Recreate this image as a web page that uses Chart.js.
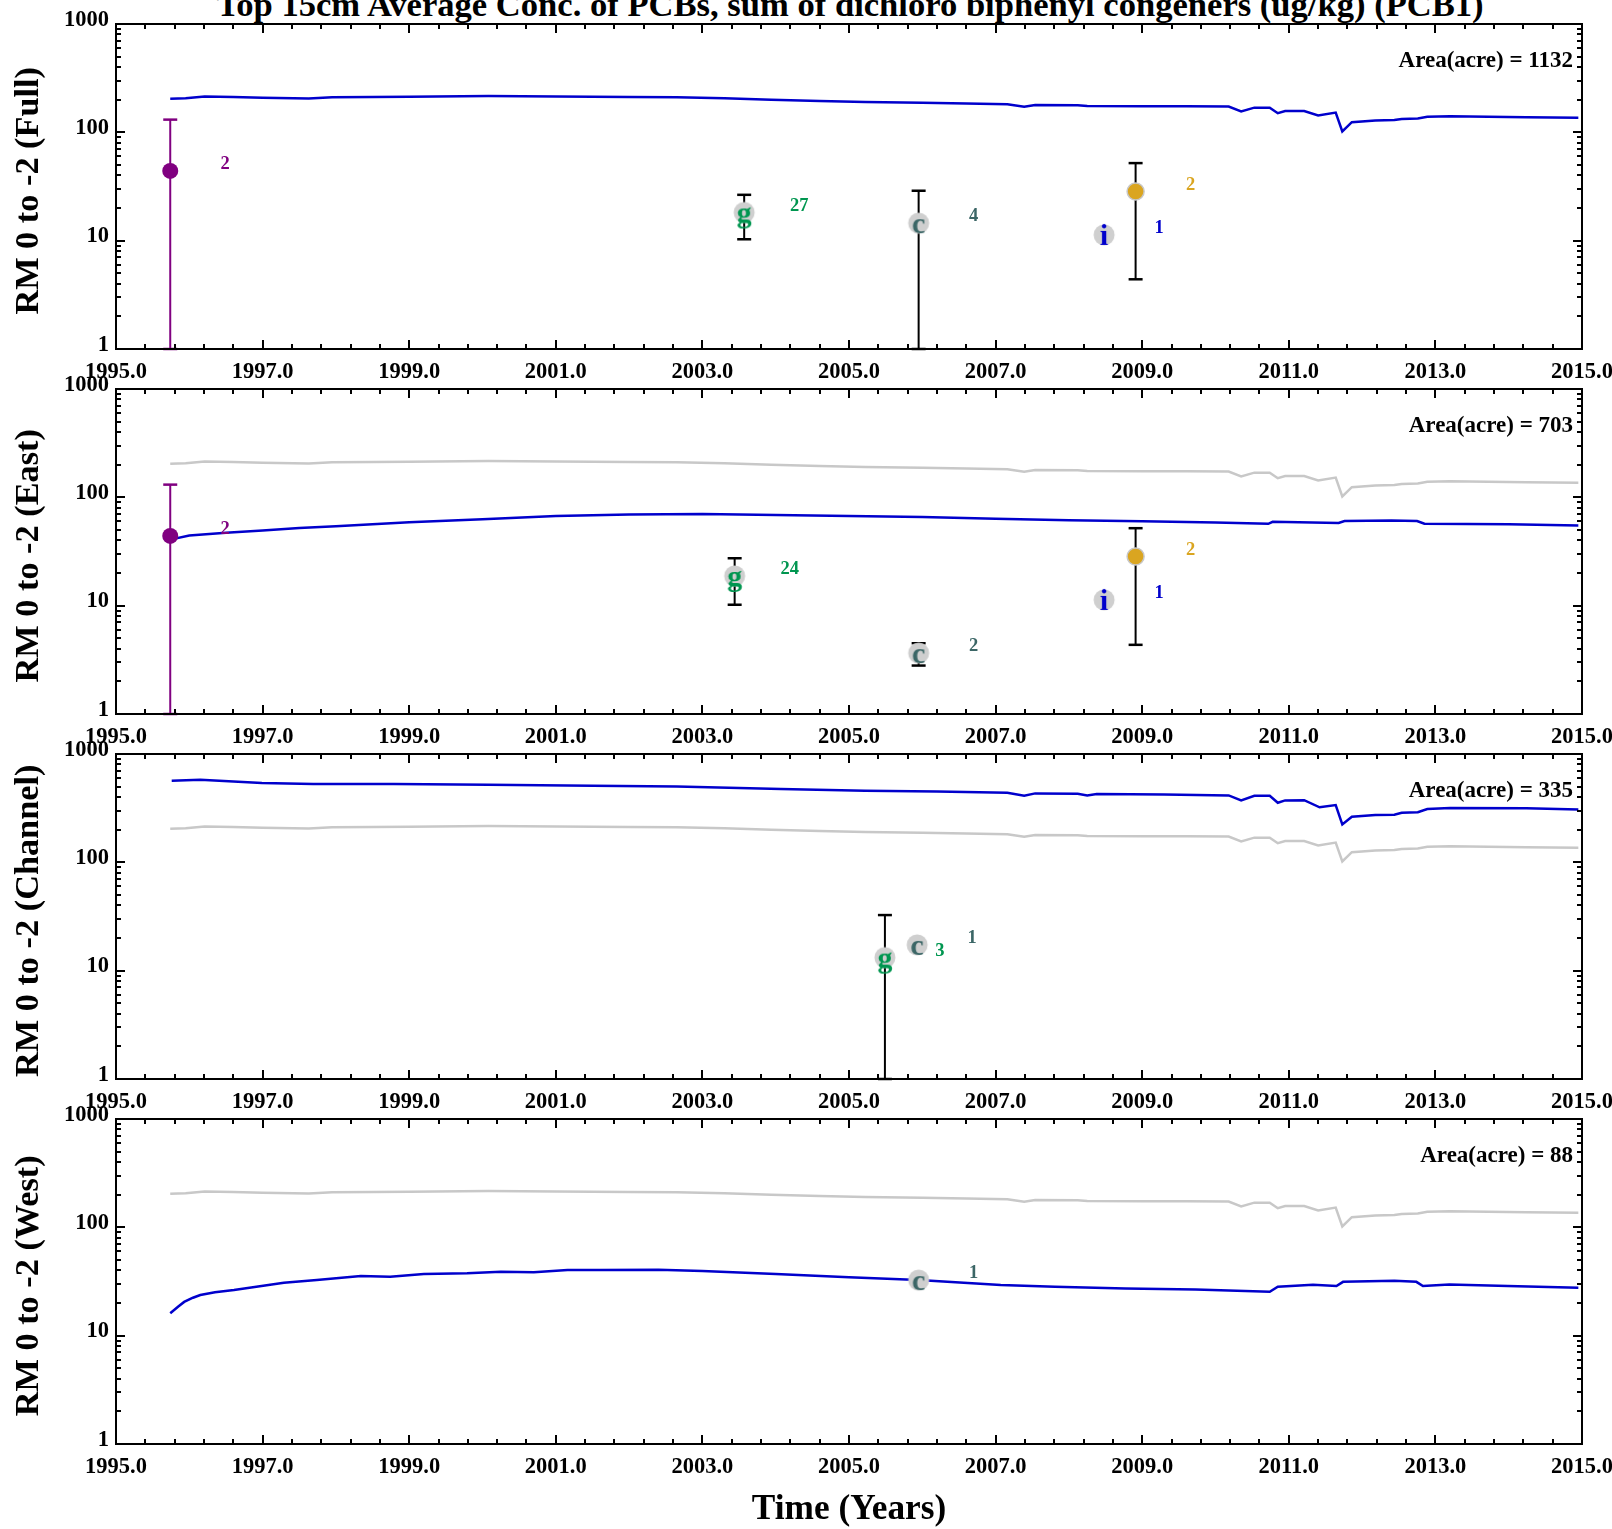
<!DOCTYPE html>
<html><head><meta charset="utf-8">
<script src="https://cdn.jsdelivr.net/npm/chart.js@4.4.1/dist/chart.umd.min.js"></script>
<style>
html,body{margin:0;padding:0;background:#fff;overflow:hidden;width:1612px;height:1529px;position:relative;}
canvas{position:absolute;left:0;}
#title{position:absolute;left:850px;top:-14px;transform:translateX(-50%);white-space:nowrap;font:bold 34.6px 'Liberation Serif';line-height:36px;color:#000;}
</style></head><body>
<div id="title">Top 15cm Average Conc. of PCBs, sum of dichloro biphenyl congeners (ug/kg) (PCB1)</div>
<canvas id="c0" width="1700" height="434" style="top:0px"></canvas>
<canvas id="c1" width="1700" height="434" style="top:365px"></canvas>
<canvas id="c2" width="1700" height="434" style="top:730px"></canvas>
<canvas id="c3" width="1700" height="434" style="top:1095px"></canvas>
<script>
// ---------- data ----------
const xTickYears = [1995, 1997, 1999, 2001, 2003, 2005, 2007, 2009, 2011, 2013, 2015];
const yTickValues = [1, 10, 100, 1000];
const panelNames = ['Full', 'East', 'Channel', 'West'];
const panelAreas = [1132, 703, 335, 88];

const fullYears = [1995.74, 1995.95, 1996.21, 1996.6, 1997.0, 1997.63, 1997.95, 1998.5, 1999.0, 2000.08, 2001.0, 2002.0, 2002.65, 2003.3, 2003.94, 2004.6, 2005.22, 2006.0, 2006.6, 2007.16, 2007.39, 2007.54, 2008.12, 2008.25, 2009.0, 2009.6, 2010.18, 2010.35, 2010.53, 2010.74, 2010.85, 2010.95, 2011.21, 2011.40, 2011.64, 2011.73, 2011.86, 2012.18, 2012.44, 2012.54, 2012.76, 2012.89, 2013.2, 2014.24, 2014.95];
const fullValues = [204, 206, 214, 212, 209, 205, 211, 212, 213, 216, 214, 212, 211, 206, 199.5, 195, 191, 188, 185, 182, 172, 179, 178, 175, 174, 174, 173, 156, 169, 169, 150, 157, 157, 143, 152, 102, 124, 128.5, 130, 133, 134, 139, 141, 138, 136];

const eastYears = [1995.74, 1996.0, 1996.5, 1997.0, 1997.5, 1998.0, 1999.0, 2000.0, 2001.0, 2002.0, 2003.0, 2004.0, 2005.0, 2006.0, 2007.0, 2008.0, 2009.0, 2010.0, 2010.72, 2010.78, 2011.68, 2011.76, 2012.4, 2012.75, 2012.85, 2014.0, 2014.95];
const eastValues = [40.7, 44.5, 47, 49.5, 52, 54, 58.9, 62.9, 67.2, 69.5, 70.3, 68.7, 67.2, 65.8, 63.5, 61.6, 60.3, 58.5, 57, 59.5, 58, 60.5, 61, 60.5, 57, 56.5, 55];

const channelYears = [1995.76, 1996.15, 1996.99, 1997.69, 1998.79, 2000.08, 2001.5, 2002.65, 2004.07, 2005.22, 2006.2, 2007.16, 2007.39, 2007.54, 2008.12, 2008.25, 2008.38, 2009.3, 2010.18, 2010.35, 2010.53, 2010.74, 2010.85, 2010.95, 2011.21, 2011.42, 2011.64, 2011.73, 2011.86, 2012.18, 2012.44, 2012.54, 2012.76, 2012.89, 2013.2, 2014.24, 2014.95];
const channelValues = [566, 578, 540, 528, 528, 520, 510, 502, 474, 458, 450, 439, 411, 433, 430, 415, 427, 423, 415, 373, 411, 411, 355, 373, 375, 322, 338, 224, 264, 273, 275, 287, 290, 310, 317, 315, 308];

const westYears = [1995.74, 1995.85, 1995.93, 1996.05, 1996.15, 1996.35, 1996.61, 1997.29, 1997.74, 1998.34, 1998.74, 1999.2, 1999.79, 2000.25, 2000.7, 2001.16, 2001.61, 2002.4, 2003.0, 2004.0, 2005.0, 2005.95, 2007.07, 2007.81, 2008.77, 2009.73, 2010.74, 2010.85, 2011.33, 2011.65, 2011.74, 2012.44, 2012.74, 2012.83, 2013.19, 2013.99, 2014.95];
const westValues = [16.1, 18.6, 20.5, 22.4, 23.7, 25.2, 26.4, 30.8, 32.6, 35.5, 35, 37, 37.6, 38.9, 38.5, 40.3, 40.3, 40.5, 39.6, 37, 34.7, 32.6, 29.3, 28.3, 27.3, 26.7, 25.4, 28.3, 29.5, 28.7, 31.4, 32.1, 31.4, 28.7, 29.7, 28.7, 27.7];

// observations (source codes: a = purple dots, b = gold dots, g / c / i = lettered samples)
const fullObsYears = [1995.74, 2003.57, 2005.95, 2008.48, 2008.91];
const fullObsValues = [44, 18.2, 14.5, 11.3, 28.4];
const fullObsLow = [1, 10.3, 1, null, 4.4];
const fullObsHigh = [131, 26.5, 28.9, null, 52];
const fullObsCounts = ['2', '27', '4', '1', '2'];
const fullObsSources = ['a', 'g', 'c', 'i', 'b'];

const eastObsYears = [1995.74, 2003.44, 2005.95, 2008.48, 2008.91];
const eastObsValues = [44, 18.8, 3.65, 11.3, 28.4];
const eastObsLow = [1, 10.2, 2.8, null, 4.35];
const eastObsHigh = [131, 27.4, 4.5, null, 51.9];
const eastObsCounts = ['2', '24', '2', '1', '2'];
const eastObsSources = ['a', 'g', 'c', 'i', 'b'];

const channelObsYears = [2005.49, 2005.93];
const channelObsValues = [13.2, 17.3];
const channelObsLow = [1, null];
const channelObsHigh = [32.6, null];
const channelObsCounts = ['3', '1'];
const channelObsSources = ['g', 'c'];

const westObsYears = [2005.95];
const westObsValues = [32.6];
const westObsLow = [null];
const westObsHigh = [null];
const westObsCounts = ['1'];
const westObsSources = ['c'];

// ---------- styles ----------
const SERIF = "'Liberation Serif', 'Times New Roman', serif";
const sourceColor = { a: '#800080', b: '#DAA520', g: '#009650', c: '#3B6666', i: '#0000cc' };
const BLUE = '#0000cc', GRAY = '#c8c8c8';

function letterImage(ch, color) {
  const c = document.createElement('canvas');
  c.width = 40; c.height = 40;
  const g = c.getContext('2d');
  g.fillStyle = '#cfcfcf';
  g.beginPath(); g.arc(20, 20, 10.5, 0, Math.PI * 2); g.fill();
  g.fillStyle = color;
  g.font = 'bold 30px ' + SERIF;
  g.textAlign = 'center'; g.textBaseline = 'alphabetic';
  g.fillText(ch, 20, 30);
  return c;
}
const letterImgs = { g: letterImage('g', sourceColor.g), c: letterImage('c', sourceColor.c), i: letterImage('i', sourceColor.i) };

const panels = [
  { years: fullYears, values: fullValues, showFull: false, obs: [fullObsYears, fullObsValues, fullObsLow, fullObsHigh, fullObsCounts, fullObsSources] },
  { years: eastYears, values: eastValues, showFull: true, obs: [eastObsYears, eastObsValues, eastObsLow, eastObsHigh, eastObsCounts, eastObsSources] },
  { years: channelYears, values: channelValues, showFull: true, obs: [channelObsYears, channelObsValues, channelObsLow, channelObsHigh, channelObsCounts, channelObsSources] },
  { years: westYears, values: westValues, showFull: true, obs: [westObsYears, westObsValues, westObsLow, westObsHigh, westObsCounts, westObsSources] }
];

const framePlugin = {
  id: 'frameTicks',
  afterDatasetsDraw(chart) {
    const { ctx, chartArea: a, scales: { x, y } } = chart;
    ctx.save();
    ctx.strokeStyle = '#000';
    ctx.lineWidth = 2;
    ctx.beginPath();
    for (let i = 0; i <= 50; i++) {
      const v = 1995 + i * 0.4;
      const px = Math.round(x.getPixelForValue(v));
      const len = i % 5 === 0 ? 9 : 5;
      ctx.moveTo(px, a.bottom); ctx.lineTo(px, a.bottom - len);
      ctx.moveTo(px, a.top); ctx.lineTo(px, a.top + len);
    }
    for (const d of [1, 10, 100, 1000]) {
      for (let k = 1; k <= 9; k++) {
        const v = k * d;
        if (v > 1000) break;
        const py = Math.round(y.getPixelForValue(v));
        const len = k === 1 ? 9 : 5;
        ctx.moveTo(a.left, py); ctx.lineTo(a.left + len, py);
        ctx.moveTo(a.right, py); ctx.lineTo(a.right - len, py);
      }
    }
    ctx.stroke();
    ctx.strokeRect(a.left, a.top, a.right - a.left, a.bottom - a.top);
    ctx.restore();
  }
};

const labelPlugin = {
  id: 'countLabels',
  afterDatasetsDraw(chart) {
    const p = chart.options.plugins.countLabels;
    const { ctx, chartArea: a, scales: { x, y } } = chart;
    const [oy, ov, , , oc, os] = p.obs;
    ctx.save();
    ctx.font = 'bold 18.5px ' + SERIF;
    ctx.textAlign = 'center';
    ctx.textBaseline = 'middle';
    oy.forEach((yr, i) => {
      ctx.fillStyle = sourceColor[os[i]];
      ctx.fillText(oc[i], x.getPixelForValue(yr + 0.75), y.getPixelForValue(ov[i]) - 6.5);
    });
    ctx.fillStyle = '#000';
    ctx.font = 'bold 23px ' + SERIF;
    ctx.textAlign = 'right';
    ctx.fillText('Area(acre) = ' + p.area, a.right - 9, a.top + 37);
    ctx.restore();
  }
};

panels.forEach((p, idx) => {
  const ds = [];
  if (p.showFull) {
    ds.push({ data: fullYears.map((v, i) => ({ x: v, y: fullValues[i] })), showLine: true, borderColor: GRAY, borderWidth: 2.5, pointRadius: 0, order: 10 });
  }
  ds.push({ data: p.years.map((v, i) => ({ x: v, y: p.values[i] })), showLine: true, borderColor: BLUE, borderWidth: 2.5, pointRadius: 0, order: 9 });
  const [oy, ov, ol, oh, oc, os] = p.obs;
  oy.forEach((yr, i) => {
    if (ol[i] == null) return;
    const col = os[i] === 'a' ? sourceColor.a : '#000';
    ds.push({ data: [{ x: yr, y: ol[i] }, { x: yr, y: oh[i] }], showLine: true, borderColor: col, borderWidth: 2,
      pointStyle: 'line', pointRadius: 7, pointBorderWidth: 2.5, pointBorderColor: col, pointBackgroundColor: col, order: 5, clip: 4 });
  });
  oy.forEach((yr, i) => {
    const s = os[i];
    const d = { data: [{ x: yr, y: ov[i] }], order: 1, clip: false };
    if (s === 'a') Object.assign(d, { pointStyle: 'circle', pointRadius: 8, pointBackgroundColor: sourceColor.a, pointBorderColor: sourceColor.a, pointBorderWidth: 0 });
    else if (s === 'b') Object.assign(d, { pointStyle: 'circle', pointRadius: 8.5, pointBackgroundColor: sourceColor.b, pointBorderColor: '#c8c8c8', pointBorderWidth: 1.5 });
    else Object.assign(d, { pointStyle: letterImgs[s], pointRadius: 10 });
    ds.push(d);
  });

  new Chart(document.getElementById('c' + idx), {
    type: 'scatter',
    data: { datasets: ds },
    plugins: [framePlugin, labelPlugin],
    options: {
      responsive: false, animation: false, devicePixelRatio: 1, events: [],
      layout: { padding: { top: 24, right: 118, left: 0, bottom: 0 } },
      elements: { line: { tension: 0 } },
      plugins: { legend: { display: false }, tooltip: { enabled: false }, countLabels: { obs: p.obs, area: panelAreas[idx] } },
      scales: {
        x: {
          type: 'linear', position: 'bottom', min: 1995, max: 2015,
          afterBuildTicks: s => { s.ticks = xTickYears.map(v => ({ value: v })); },
          afterFit: s => { s.height = 85; },
          grid: { display: false, drawTicks: false }, border: { display: false },
          ticks: { callback: v => Number(v).toFixed(1), font: { family: SERIF, weight: 'bold', size: 22.5 }, color: '#000', padding: 9.5, maxRotation: 0, autoSkip: false },
          title: { display: idx === 3, text: 'Time (Years)', color: '#000', font: { family: SERIF, weight: 'bold', size: 35.3 }, padding: { top: 0, bottom: -2 } }
        },
        y: {
          type: 'logarithmic', position: 'left', min: 1, max: 1000,
          afterBuildTicks: s => { s.ticks = yTickValues.map(v => ({ value: v })); },
          afterFit: s => { s.width = 116; },
          grid: { display: false, drawTicks: false }, border: { display: false },
          ticks: { callback: v => String(v), font: { family: SERIF, weight: 'bold', size: 22.5 }, color: '#000', padding: 7, labelOffset: -4, autoSkip: false },
          title: { display: true, text: 'RM 0 to -2 (' + panelNames[idx] + ') ', color: '#000', font: { family: SERIF, weight: 'bold', size: 34.3 }, padding: { top: 9, bottom: 0 } }
        }
      }
    }
  });
});
</script>
</body></html>
